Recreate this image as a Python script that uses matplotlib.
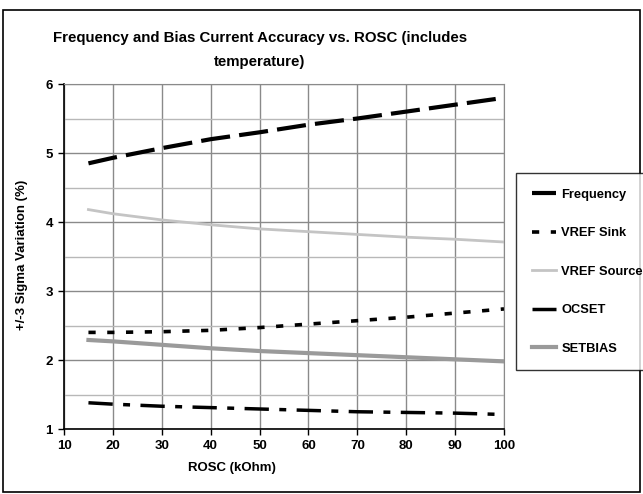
import matplotlib
matplotlib.use("Agg")
import matplotlib.pyplot as plt
from matplotlib.patches import Rectangle

# values
rosc = [15, 20, 30, 40, 50, 60, 70, 80, 90, 100]
frequency = [4.85, 4.93, 5.07, 5.20, 5.30, 5.41, 5.50, 5.60, 5.70, 5.80]
vref_sink = [2.40, 2.40, 2.41, 2.43, 2.47, 2.52, 2.57, 2.62, 2.68, 2.74]
vref_source = [4.18, 4.12, 4.03, 3.96, 3.90, 3.86, 3.82, 3.78, 3.75, 3.71]
ocset = [1.38, 1.36, 1.33, 1.31, 1.29, 1.27, 1.25, 1.24, 1.23, 1.21]
setbias = [2.29, 2.27, 2.22, 2.17, 2.13, 2.10, 2.07, 2.04, 2.01, 1.98]

x_ticks = [10, 20, 30, 40, 50, 60, 70, 80, 90, 100]
y_ticks = [1, 2, 3, 4, 5, 6]

plt.rcParams['font.family'] = ['Liberation Sans', 'DejaVu Sans']
plt.rcParams['font.weight'] = 'bold'

W, H = 643, 494
fig = plt.figure(figsize=(W / 100, H / 100), dpi=100)
ax = fig.add_axes([64 / W, 1 - 429 / H, (504 - 64) / W, (429 - 84) / H])

# outer frame round the whole chart
fig.patches.append(Rectangle((3 / W, 1 - 492 / H), 637 / W, 482 / H,
                             transform=fig.transFigure, fill=False,
                             edgecolor='black', lw=1.2))

ax.plot(rosc, frequency, color='black', lw=3, dashes=(7, 2.2), label='Frequency')
ax.plot(rosc, vref_sink, color='black', lw=2.6, dashes=(2, 3.2), label='VREF Sink')
ax.plot(rosc, vref_source, color='#c4c4c4', lw=2, label='VREF Source')
ax.plot(rosc, ocset, color='black', lw=2.5, dashes=(7, 3, 2, 3), label='OCSET')
ax.plot(rosc, setbias, color='#9a9a9a', lw=3, label='SETBIAS')

ax.set_xlim(10, 100)
ax.set_ylim(1, 6)
ax.set_xticks(x_ticks)
ax.set_yticks(y_ticks)
ax.set_yticks([1.5, 2.5, 3.5, 4.5, 5.5], minor=True)
ax.tick_params(axis='y', which='minor', length=0)
ax.tick_params(which='major', direction='out', length=4, width=1, labelsize=9.5, pad=4)
ax.grid(True, which='major', color='#8a8a8a', lw=1)
ax.grid(True, which='minor', axis='y', color='#b8b8b8', lw=1)
ax.set_axisbelow(True)
for s in ['top', 'right']:
    ax.spines[s].set_color('#8a8a8a')
for s in ['left', 'bottom']:
    ax.spines[s].set_color('black')
    ax.spines[s].set_linewidth(1.2)

fig.text(260 / W, 1 - 38 / H, 'Frequency and Bias Current Accuracy vs. ROSC (includes',
         ha='center', va='center', fontsize=10.8, fontweight='bold')
fig.text(260 / W, 1 - 62 / H, 'temperature)', ha='center', va='center',
         fontsize=10.8, fontweight='bold')
fig.text(232 / W, 1 - 468 / H, 'ROSC (kOhm)', ha='center', va='center',
         fontsize=9.5, fontweight='bold')
fig.text(22 / W, 1 - 255 / H, '+/-3 Sigma Variation (%)', ha='center', va='center',
         rotation=90, fontsize=9.5, fontweight='bold')

leg = fig.legend(loc='upper left', bbox_to_anchor=(516 / W, 1 - 173 / H),
                 frameon=True, fancybox=False, edgecolor='black',
                 fontsize=9.3, handlelength=1.9, labelspacing=2.05,
                 borderpad=1.2, handletextpad=0.4, borderaxespad=0)
leg.get_frame().set_linewidth(1)

fig.savefig('out.png', dpi=100)
